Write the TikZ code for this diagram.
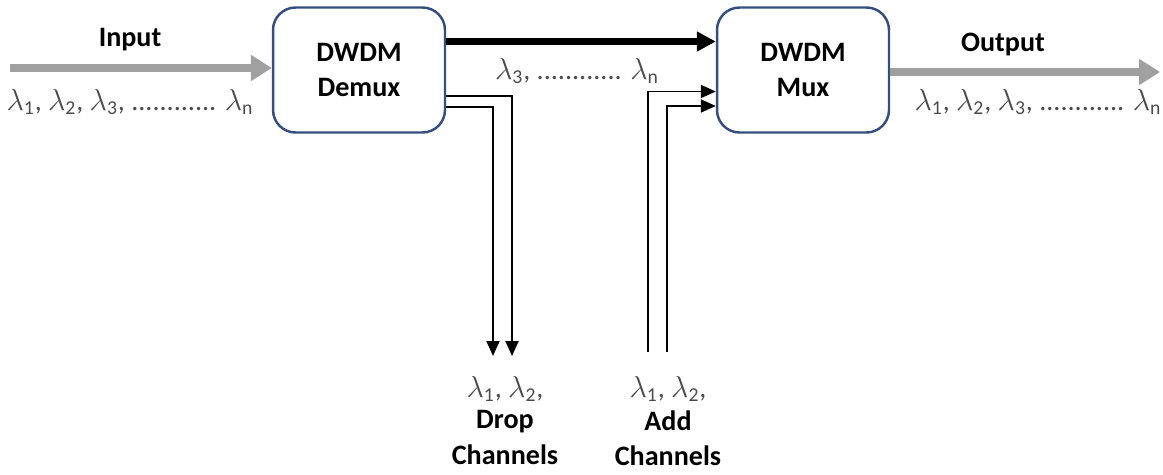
\documentclass[tikz,border=0pt]{standalone}
\usepackage{fontspec}
\setmainfont{Carlito}
\usetikzlibrary{positioning, arrows.meta, calc}
\definecolor{boxblue}{RGB}{52,78,128}
\definecolor{fibergray}{RGB}{160,160,160}
\definecolor{lamgray}{RGB}{75,75,75}
\tikzset{
    box/.style={draw=boxblue, line width=1.4pt, rounded corners=0.45cm, fill=white,
        minimum width=3.44cm, minimum height=2.5cm, align=center,
        font=\fontsize{16}{20}\selectfont\bfseries},
    lbl/.style={font=\fontsize{16}{20}\selectfont\bfseries, align=center},
    lam/.style={text=lamgray, font=\fontsize{16}{20}\selectfont},
    fiber/.style={draw=fibergray, line width=4.5pt, -{Triangle[length=0.42cm,width=0.5cm]}},
    through/.style={line width=3.5pt, -{Triangle[length=0.38cm,width=0.38cm]}},
    chan/.style={line width=1.1pt, -{Triangle[length=0.3cm,width=0.26cm]}},
    addline/.style={line width=1.1pt, -{Triangle[length=0.3cm,width=0.26cm]}}
}
\newcommand{\lam}[1]{$\lambda_{\mathrm{#1}}$}
\newcommand{\lamlist}{\lam{1}, \lam{2}, \lam{3}, ............ \lam{n}}
\begin{document}
\begin{tikzpicture}[x=0.02cm, y=-0.02cm]
    \useasboundingbox (0,0) rectangle (1163,474);

    \node[box] (demux) at (359,70) {DWDM\\Demux};
    \node[box] (mux) at (803,70) {DWDM\\Mux};

    % in and out
    \coordinate (in) at (10,68);
    \coordinate (out) at (1160,72);
    \draw[fiber] (in) -- (in -| demux.west);
    \draw[fiber] (out -| mux.east) -- (out);
    \node[lbl] (inlbl) at (130,40) {Input};
    \node[lam] (inlam) at (130,102) {\lamlist};
    \node[lbl] (outlbl) at (1003,44) {Output};
    \node[lam] (outlam) at (1038,102) {\lamlist};

    % pass through
    \draw[through] ([yshift=0.57cm]demux.east) -- ([yshift=0.57cm]mux.west);
    \node[lam] (passlam) at (577,71) {\lam{3}, ............ \lam{n}};

    % drop channels
    \coordinate (drop1) at (512,356);
    \coordinate (drop2) at (493,356);
    \draw[chan] ([yshift=-0.52cm]demux.east) -| (drop1);
    \draw[chan] ([yshift=-0.74cm]demux.east) -| (drop2);
    \node[lam] (droplam) at (505,389) {\lam{1}, \lam{2},};
    \node[lbl, below=-2pt of droplam] (drop) {Drop\\Channels};

    % add channels
    \coordinate (add1) at (648,352);
    \coordinate (add2) at (667,352);
    \draw[addline] (add1) |- ([yshift=-0.43cm]mux.west);
    \draw[addline] (add2) |- ([yshift=-0.72cm]mux.west);
    \node[lam] (addlam) at (668,389) {\lam{1}, \lam{2},};
    \node[lbl, below=-2pt of addlam] (add) {Add\\Channels};
\end{tikzpicture}
\end{document}
